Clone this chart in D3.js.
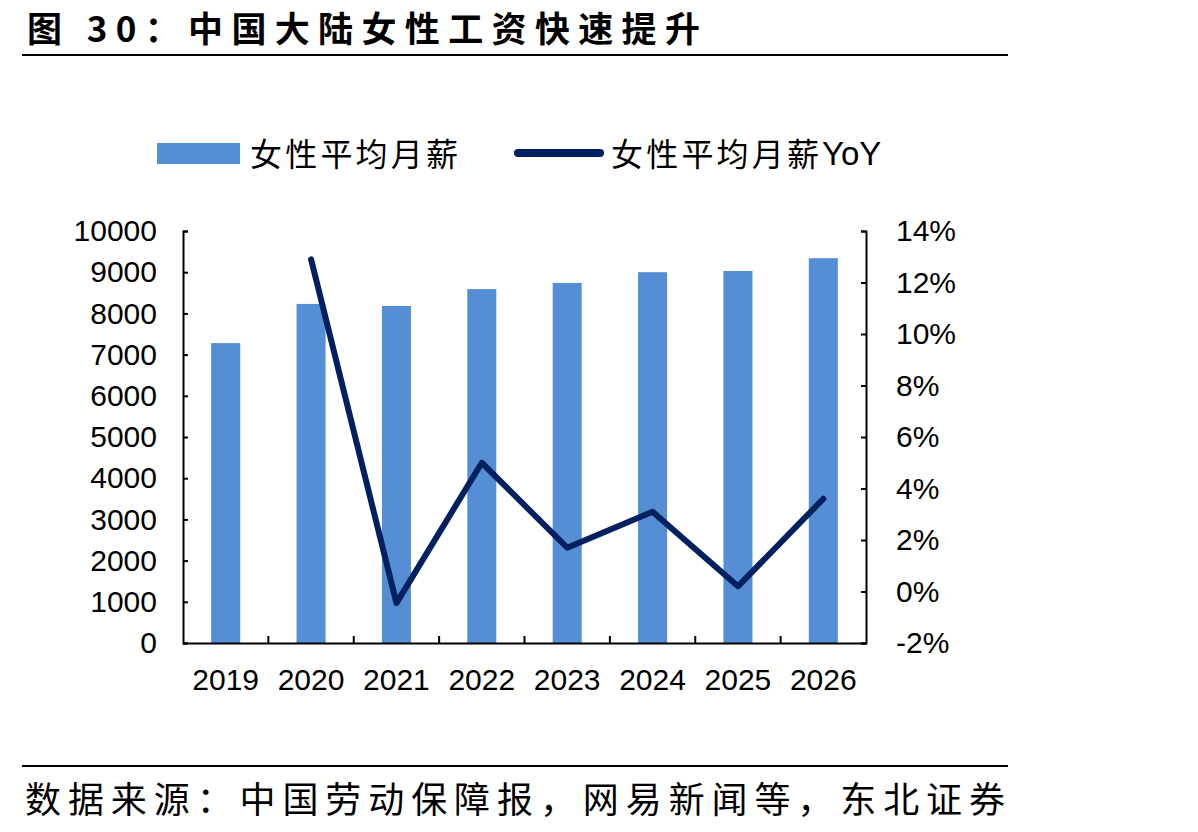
<!DOCTYPE html>
<html lang="zh">
<head>
<meta charset="UTF-8">
<title>中国大陆女性工资快速提升</title>
<script src="https://d3js.org/d3.v7.min.js"></script>
<style>
  body { margin: 0; background: #fff; }
  .cjk { font-family: "Noto Sans CJK SC", sans-serif; fill: #000; }
  .num { font-family: "Liberation Sans", Arial, sans-serif; fill: #000; }
</style>
</head>
<body>
<script>
// data
const years = ["2019", "2020", "2021", "2022", "2023", "2024", "2025", "2026"];
const salary = [7280, 8230, 8180, 8590, 8740, 9000, 9030, 9340];
const yoy = [null, 12.9, -0.45, 5.0, 1.7, 3.1, 0.2, 3.6];
const leftTicks = [0, 1000, 2000, 3000, 4000, 5000, 6000, 7000, 8000, 9000, 10000];
const rightTicks = [-2, 0, 2, 4, 6, 8, 10, 12, 14];

const width = 1198, height = 832;
const plot = { left: 183, right: 866, top: 231, bottom: 643 };

const svg = d3.select("body").append("svg")
  .attr("width", width)
  .attr("height", height);

// title + rules
svg.append("text").attr("class", "cjk")
  .attr("x", 27).attr("y", 42)
  .attr("font-size", 35).attr("font-weight", "bold")
  .attr("textLength", 673).attr("lengthAdjust", "spacing")
  .text("图 30：中国大陆女性工资快速提升");
svg.append("line").attr("x1", 22).attr("x2", 1008).attr("y1", 55).attr("y2", 55)
  .attr("stroke", "#000").attr("stroke-width", 2);
svg.append("line").attr("x1", 22).attr("x2", 1008).attr("y1", 766).attr("y2", 766)
  .attr("stroke", "#000").attr("stroke-width", 2);
svg.append("text").attr("class", "cjk")
  .attr("x", 25).attr("y", 813)
  .attr("font-size", 36)
  .attr("textLength", 980).attr("lengthAdjust", "spacing")
  .text("数据来源：中国劳动保障报，网易新闻等，东北证券");

// scales
const x = d3.scaleBand().domain(years).range([plot.left, plot.right]);
const yL = d3.scaleLinear().domain([0, 10000]).range([plot.bottom, plot.top]);
const yR = d3.scaleLinear().domain([-2, 14]).range([plot.bottom, plot.top]);
const barW = x.bandwidth() * 0.34;

// bars
svg.append("g").selectAll("rect")
  .data(years.map((d, i) => ({ year: d, v: salary[i] })))
  .join("rect")
  .attr("x", d => x(d.year) + (x.bandwidth() - barW) / 2)
  .attr("width", barW)
  .attr("y", d => yL(d.v))
  .attr("height", d => yL(0) - yL(d.v))
  .attr("fill", "#558ED5");

// YoY line
const line = d3.line()
  .defined(d => d.v != null)
  .x(d => x(d.year) + x.bandwidth() / 2)
  .y(d => yR(d.v));
svg.append("path")
  .datum(years.map((d, i) => ({ year: d, v: yoy[i] })))
  .attr("d", line)
  .attr("fill", "none")
  .attr("stroke", "#002060")
  .attr("stroke-width", 6)
  .attr("stroke-linejoin", "round")
  .attr("stroke-linecap", "round");

// axes
const leftAxis = svg.append("g").attr("transform", `translate(${plot.left},0)`)
  .call(d3.axisLeft(yL).tickValues(leftTicks).tickFormat(d3.format("d"))
    .tickSizeInner(-5).tickSizeOuter(-5).tickPadding(26));
const rightAxis = svg.append("g").attr("transform", `translate(${plot.right},0)`)
  .call(d3.axisRight(yR).tickValues(rightTicks).tickFormat(d => d + "%")
    .tickSizeInner(-5).tickSizeOuter(-5).tickPadding(30));
const bottomAxis = svg.append("g").attr("transform", `translate(0,${plot.bottom})`)
  .call(d3.axisBottom(x).tickSize(0).tickPadding(26));

// category boundary ticks on the bottom axis
svg.append("g").selectAll("line")
  .data(years.slice(1))
  .join("line")
  .attr("x1", d => x(d)).attr("x2", d => x(d))
  .attr("y1", plot.bottom).attr("y2", plot.bottom - 7)
  .attr("stroke", "#000").attr("stroke-width", 2);

[leftAxis, rightAxis, bottomAxis].forEach(g => {
  g.selectAll(".domain").attr("stroke", "#000").attr("stroke-width", 2);
  g.selectAll(".tick line").attr("stroke", "#000").attr("stroke-width", 2);
  g.selectAll("text").attr("class", "num").attr("font-size", 30).attr("fill", "#000");
});
bottomAxis.selectAll("text").attr("dy", "0.71em");

// legend
const legend = svg.append("g");
legend.append("rect").attr("x", 157).attr("y", 143).attr("width", 83).attr("height", 21)
  .attr("fill", "#558ED5");
legend.append("text").attr("class", "cjk")
  .attr("x", 250).attr("y", 166).attr("font-size", 32)
  .attr("textLength", 208).attr("lengthAdjust", "spacing")
  .text("女性平均月薪");
legend.append("line").attr("x1", 518).attr("x2", 600).attr("y1", 153).attr("y2", 153)
  .attr("stroke", "#002060").attr("stroke-width", 8).attr("stroke-linecap", "round");
legend.append("text").attr("class", "cjk")
  .attr("x", 611).attr("y", 166).attr("font-size", 32)
  .attr("textLength", 208).attr("lengthAdjust", "spacing")
  .text("女性平均月薪");
legend.append("text").attr("class", "num")
  .attr("x", 822).attr("y", 165).attr("font-size", 33)
  .text("YoY");
</script>
</body>
</html>
